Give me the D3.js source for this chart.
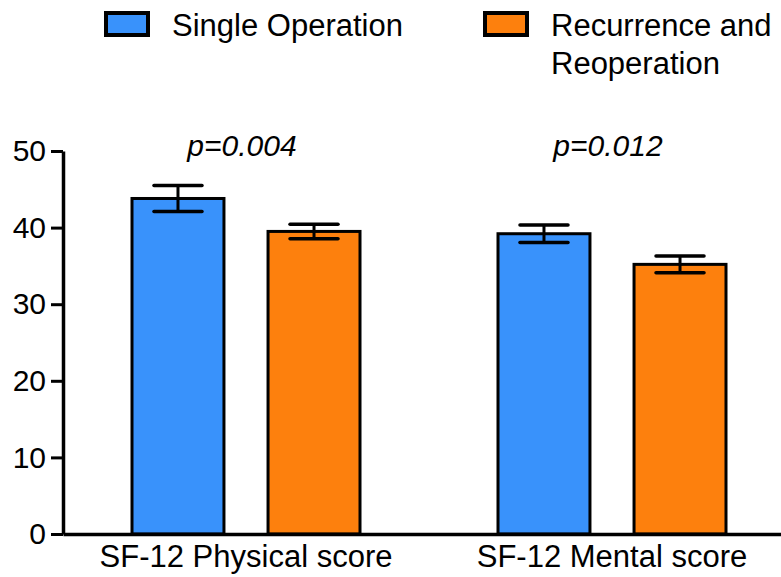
<!DOCTYPE html>
<html>
<head>
<meta charset="utf-8">
<script src="https://cdn.jsdelivr.net/npm/d3@7"></script>
<style>
  body { margin: 0; background: #fff; }
  svg { display: block; font-family: "Liberation Sans", Arial, sans-serif; }
</style>
</head>
<body>
<svg id="chart" width="781" height="577"></svg>
<script>
// values
var categories = ["SF-12 Physical score", "SF-12 Mental score"];
var series = ["Single Operation", "Recurrence and Reoperation"];
var means = [[43.8, 39.5], [39.2, 35.2]];
var errors = [[1.7, 0.95], [1.15, 1.1]];
var pValues = ["p=0.004", "p=0.012"];
var yTicks = [0, 10, 20, 30, 40, 50];
var colors = ["#3992fb", "#fd800d"];

var svg = d3.select("#chart");

var y = d3.scaleLinear().domain([0, 50]).range([534, 151]);

var x = d3.scaleBand().domain(categories).range([63, 795]);

// bars inside each group
var xSub = d3.scaleBand().domain(series).range([69, 297]).paddingInner(0.324);

var groups = svg.selectAll("g.group")
  .data(categories)
  .enter().append("g")
  .attr("class", "group")
  .attr("transform", d => "translate(" + x(d) + ",0)");

groups.each(function(cat, ci){
  var g = d3.select(this);
  series.forEach(function(s, si){
    var v = means[ci][si], e = errors[ci][si];
    var bx = xSub(s), bw = xSub.bandwidth();
    var cx = bx + bw / 2;
    g.append("rect")
      .attr("x", bx)
      .attr("y", y(v))
      .attr("width", bw)
      .attr("height", y(0) - y(v))
      .attr("fill", colors[si])
      .attr("stroke", "#000")
      .attr("stroke-width", 3);
    // error bar
    g.append("line")
      .attr("x1", cx).attr("x2", cx)
      .attr("y1", y(v + e)).attr("y2", y(v - e))
      .attr("stroke", "#000").attr("stroke-width", 3);
    [v + e, v - e].forEach(function(t){
      g.append("line")
        .attr("x1", cx - 24).attr("x2", cx + 24)
        .attr("y1", y(t)).attr("y2", y(t))
        .attr("stroke", "#000").attr("stroke-width", 3.5)
        .attr("stroke-linecap", "round");
    });
  });
  g.append("text")
    .attr("x", x.bandwidth() / 2 - 4)
    .attr("y", 156)
    .attr("text-anchor", "middle")
    .attr("font-size", 30)
    .attr("font-style", "italic")
    .text(pValues[ci]);
});

// y axis
var yAxis = svg.append("g")
  .attr("transform", "translate(63,0)")
  .call(d3.axisLeft(y).tickValues(yTicks).tickSize(12).tickPadding(5).tickSizeOuter(0));
yAxis.select(".domain").attr("stroke-width", 3.5);
yAxis.selectAll(".tick line").attr("stroke-width", 3);
yAxis.selectAll(".tick text").attr("font-size", 30).attr("fill", "#000")
  .attr("font-family", "Liberation Sans, Arial, sans-serif");

// x axis
var xAxis = svg.append("g")
  .attr("transform", "translate(0,534)")
  .call(d3.axisBottom(x).tickSize(0).tickPadding(10).tickSizeOuter(0));
xAxis.select(".domain").attr("stroke-width", 3.5);
xAxis.selectAll(".tick text").attr("font-size", 31).attr("fill", "#000")
  .attr("dy", "0.74em")
  .attr("font-family", "Liberation Sans, Arial, sans-serif");

// legend
var legend = [
  {x: 106, lines: ["Single Operation"]},
  {x: 485, lines: ["Recurrence and", "Reoperation"]}
];
legend.forEach(function(l, i){
  svg.append("rect")
    .attr("x", l.x).attr("y", 13)
    .attr("width", 42).attr("height", 22)
    .attr("fill", colors[i])
    .attr("stroke", "#000").attr("stroke-width", 4);
  var t = svg.append("text")
    .attr("x", l.x + 66).attr("y", 36)
    .attr("font-size", 31);
  l.lines.forEach(function(line, li){
    t.append("tspan").attr("x", l.x + 66).attr("dy", li ? 38 : 0).text(line);
  });
});
</script>
</body>
</html>
